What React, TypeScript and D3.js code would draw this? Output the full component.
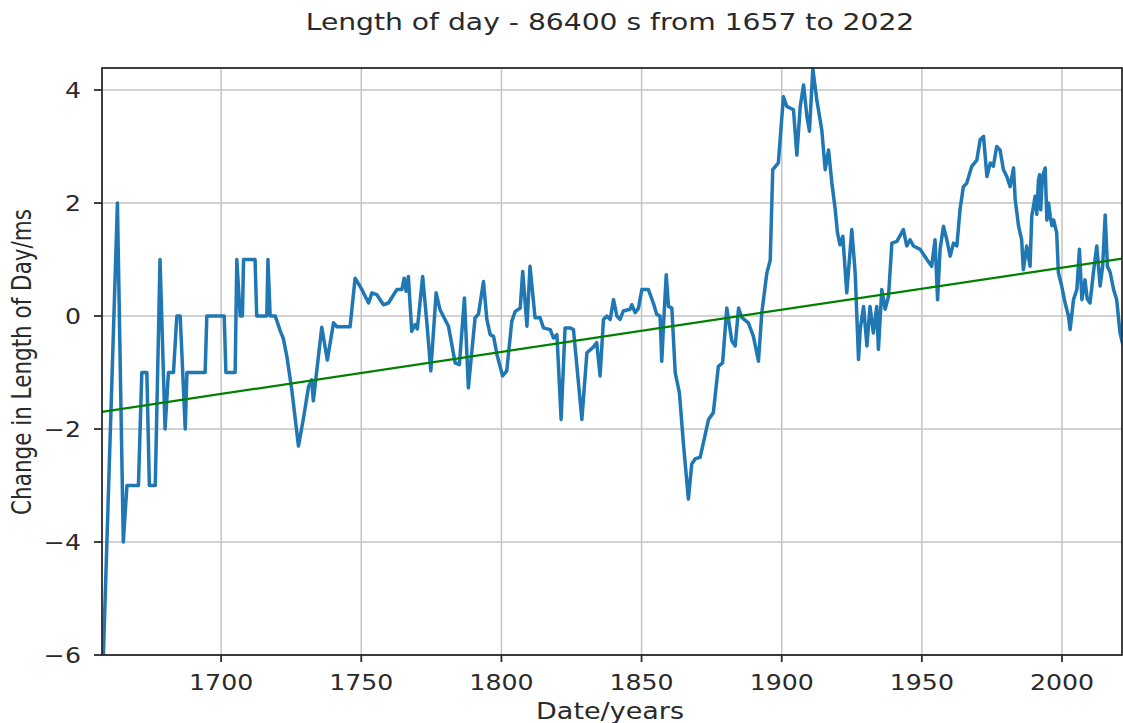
import React from "react";
import * as d3 from "d3";

const years: number[] = [
  1658, 1663.0, 1665.1, 1666.4, 1670.5, 1671.7, 1673.5, 1674.4, 1676.5, 1678.2,
  1680.0, 1681.2, 1683.0, 1684.2, 1685.4, 1687.2, 1687.8, 1694.3, 1694.9, 1701.1,
  1701.7, 1705.0, 1705.6, 1706.8, 1707.6, 1708.0, 1712.1, 1712.7, 1716.3, 1716.7, 1717.5,
  1719.3, 1721.0, 1722.2, 1723.4, 1725.2, 1727.6, 1729.4, 1731.2, 1732.3, 1732.9,
  1735.9, 1737.9, 1740.1, 1741.3, 1746.0, 1747.8, 1750.2, 1752.6, 1753.8, 1755.5,
  1757.9, 1759.7, 1762.7, 1764.5, 1765.3, 1766.0, 1766.8, 1768.0, 1769.2, 1770.0,
  1771.9, 1773.4, 1774.8, 1776.7, 1778.1, 1781.1, 1783.5, 1785.0, 1786.8, 1788.2,
  1790.6, 1791.8, 1793.6, 1794.8, 1796.0, 1797.2, 1798.4, 1800.4, 1801.9, 1803.7,
  1804.9, 1806.7, 1807.6, 1809.1, 1810.2, 1812.0, 1813.8, 1815.0, 1817.4, 1818.6,
  1819.8, 1821.3, 1822.7, 1824.5, 1825.7, 1828.7, 1830.5, 1832.8, 1834.0, 1835.2,
  1836.4, 1837.6, 1838.8, 1840.0, 1841.2, 1842.3, 1843.5, 1845.9, 1846.5, 1847.7,
  1848.9, 1850.1, 1852.4, 1854.2, 1855.4, 1856.6, 1857.2, 1858.0, 1858.8, 1859.6,
  1860.8, 1862.0, 1863.5, 1864.9, 1866.7, 1867.9, 1869.1, 1870.9, 1873.9, 1875.6,
  1877.4, 1878.9, 1880.4, 1882.2, 1883.4, 1884.6, 1885.8, 1888.1, 1889.9, 1891.7,
  1892.9, 1894.7, 1895.9, 1896.8, 1898.8, 1900.6, 1901.8, 1904.2, 1905.4, 1906.6,
  1907.8, 1909.0, 1909.9, 1911.1, 1912.5, 1914.3, 1915.5, 1916.7, 1917.9, 1919.1,
  1919.9, 1920.8, 1921.8, 1923.2, 1925.0, 1926.2, 1927.4, 1928.0, 1929.2, 1930.4,
  1931.5, 1932.7, 1933.9, 1934.5, 1935.7, 1936.9, 1938.1, 1939.3, 1941.1, 1943.4,
  1944.6, 1945.8, 1947.0, 1949.4, 1951.8, 1953.5, 1954.7, 1955.6, 1956.5, 1957.7,
  1958.9, 1960.1, 1961.3, 1962.5, 1963.6, 1964.8, 1966.0, 1967.8, 1969.6, 1970.8,
  1972.0, 1973.2, 1974.4, 1975.5, 1976.7, 1977.9, 1979.1, 1980.3, 1981.5, 1982.7,
  1983.3, 1984.5, 1985.6, 1986.2, 1987.4, 1988.6, 1989.2, 1990.4, 1991.0, 1991.6,
  1992.0, 1992.4, 1993.0, 1993.4, 1994.0, 1994.6, 1995.2, 1995.8, 1996.4, 1997.0,
  1998.1, 1998.7, 1999.9, 2001.1, 2002.3, 2002.9, 2004.1, 2005.3, 2006.2, 2007.1,
  2008.2, 2009.0, 2010.0, 2011.2, 2012.4, 2013.6, 2014.5, 2015.4, 2016.2, 2017.2,
  2018.4, 2019.5, 2020.7, 2021.8,
];

const lodMs: number[] = [
  -6.0, 2.0, -4.0, -3.0, -3.0, -1.0, -1.0, -3.0, -3.0, 1.0,
  -2.0, -1.0, -1.0, 0.0, 0.0, -2.0, -1.0, -1.0, 0.0, 0.0,
  -1.0, -1.0, 1.0, 0.0, 0.0, 1.0, 1.0, 0.0, 0.0, 1.0, 0.0,
  0.0, -0.25, -0.4, -0.7, -1.3, -2.3, -1.8, -1.25, -1.13, -1.5,
  -0.2, -0.78, -0.12, -0.19, -0.19, 0.67, 0.47, 0.23, 0.41, 0.38,
  0.2, 0.23, 0.47, 0.47, 0.67, 0.44, 0.7, -0.27, -0.15, -0.23,
  0.7, -0.12, -0.97, 0.41, 0.11, -0.18, -0.83, -0.86, 0.32, -1.27,
  -0.03, 0.03, 0.61, -0.06, -0.33, -0.36, -0.68, -1.06, -0.97, -0.09,
  0.08, 0.14, 0.79, -0.18, 0.88, -0.03, -0.03, -0.21, -0.24, -0.39,
  -0.33, -1.83, -0.21, -0.21, -0.24, -1.83, -0.65, -0.55, -0.47, -1.06,
  -0.06, 0.0, -0.06, 0.29, 0.0, -0.06, 0.09, 0.12, 0.2, 0.06,
  0.14, 0.47, 0.47, 0.23, 0.03, 0.0, -0.8, 0.0, 0.73, 0.17,
  0.14, -1.0, -1.36, -2.24, -3.24, -2.62, -2.53, -2.5, -1.83, -1.71,
  -0.89, -0.83, 0.14, -0.44, -0.53, 0.14, -0.03, -0.12, -0.36, -0.8,
  0.06, 0.76, 0.99, 2.59, 2.71, 3.88, 3.71, 3.65, 2.85, 3.71,
  4.09, 3.53, 3.27, 4.38, 3.83, 3.29, 2.59, 2.94, 2.35, 1.88,
  1.47, 1.26, 1.41, 0.41, 1.53, 0.77, -0.77, -0.24, 0.17, -0.53,
  0.17, -0.3, 0.17, -0.59, 0.47, 0.12, 0.35, 1.29, 1.32, 1.53,
  1.24, 1.35, 1.24, 1.18, 1.0, 0.88, 1.35, 0.29, 1.18, 1.59,
  1.35, 1.06, 1.29, 1.24, 1.88, 2.29, 2.35, 2.65, 2.76, 3.12,
  3.18, 2.47, 2.71, 2.65, 3.0, 2.94, 2.59, 2.47, 2.29, 2.62,
  2.06, 1.59, 1.35, 0.82, 1.24, 0.88, 1.76, 2.12, 1.8, 2.41,
  2.5, 1.88, 2.45, 2.53, 2.62, 1.7, 2.0, 1.76, 1.6, 1.7,
  1.47, 0.77, 0.53, 0.23, 0.0, -0.24, 0.29, 0.47, 1.18, 0.29,
  0.64, 0.3, 0.23, 0.77, 1.24, 0.53, 0.88, 1.79, 0.88, 0.77,
  0.47, 0.29, -0.3, -0.53,
];

const trendYears: number[] = [1657, 2022];
const trendMs: number[] = [-1.7, 1.02];

const xTicks: number[] = [1700, 1750, 1800, 1850, 1900, 1950, 2000];
const yTicks: number[] = [-6, -4, -2, 0, 2, 4];

const titleText = "Length of day - 86400 s from 1657 to 2022";
const xLabelText = "Date/years";
const yLabelText = "Change in Length of Day/ms";

const W = 1123;
const H = 723;
const L = 102;
const R = 1122;
const T = 68;
const B = 655;
const SX = 1.2;
const FONT = "DejaVu Sans, sans-serif";
const TXT = "#2a2a2a";

export default function App() {
  const x = d3.scaleLinear().domain([1657.5, 2021.4]).range([L, R]);
  const y = d3.scaleLinear().domain([-6, 4.39]).range([B, T]);

  const pts = years.map((yr, i) => [yr, lodMs[i]] as [number, number]);
  const line = d3
    .line<[number, number]>()
    .x((d) => x(d[0]))
    .y((d) => y(d[1]));
  const trend = trendYears.map((yr, i) => [yr, trendMs[i]] as [number, number]);

  const fmt = (v: number) => (v < 0 ? "\u2212" + Math.abs(v) : String(v));

  return (
    <div style={{ position: "absolute", left: 0, top: 0 }}>
      <svg width={W} height={H} style={{ display: "block", background: "#fff" }}>
        <defs>
          <clipPath id="plotclip">
            <rect x={L} y={T} width={R - L} height={B - T} />
          </clipPath>
        </defs>
        <rect x={0} y={0} width={W} height={H} fill="#fff" />
        <g stroke="#c4c4c4" strokeWidth={1.5}>
          {xTicks.map((t) => (
            <line key={"gx" + t} x1={x(t)} x2={x(t)} y1={T} y2={B} />
          ))}
          {yTicks.map((t) => (
            <line key={"gy" + t} x1={L} x2={R} y1={y(t)} y2={y(t)} />
          ))}
        </g>
        <g clipPath="url(#plotclip)">
          <path d={line(pts) || ""} fill="none" stroke="#1f77b4" strokeWidth={3.5} strokeLinejoin="round" />
          <path d={line(trend) || ""} fill="none" stroke="#008000" strokeWidth={2.2} />
        </g>
        <rect x={L} y={T} width={R - L} height={B - T} fill="none" stroke="#2b2b2b" strokeWidth={1.8} />
        <g stroke="#2b2b2b" strokeWidth={1.8}>
          {xTicks.map((t) => (
            <line key={"tx" + t} x1={x(t)} x2={x(t)} y1={B} y2={B + 7} />
          ))}
          {yTicks.map((t) => (
            <line key={"ty" + t} x1={L - 8} x2={L} y1={y(t)} y2={y(t)} />
          ))}
        </g>
        <g fill={TXT} fontFamily={FONT} fontSize={21}>
          {xTicks.map((t) => (
            <text key={"lx" + t} transform={`translate(${x(t)},${690}) scale(${SX},1)`} textAnchor="middle">
              {String(t)}
            </text>
          ))}
          {yTicks.map((t) => (
            <text key={"ly" + t} transform={`translate(${L - 21},${y(t) + 8}) scale(${SX},1)`} textAnchor="end">
              {fmt(t)}
            </text>
          ))}
        </g>
        <text transform={`translate(610,30) scale(${SX},1)`} textAnchor="middle" fontFamily={FONT} fontSize={23.5} fill={TXT}>
          {titleText}
        </text>
        <text transform={`translate(610,719) scale(${SX},1)`} textAnchor="middle" fontFamily={FONT} fontSize={22.5} fill={TXT}>
          {xLabelText}
        </text>
        <text transform={`translate(31,362) rotate(-90) scale(1,${SX})`} textAnchor="middle" fontFamily={FONT} fontSize={21.5} fill={TXT}>
          {yLabelText}
        </text>
      </svg>
    </div>
  );
}
